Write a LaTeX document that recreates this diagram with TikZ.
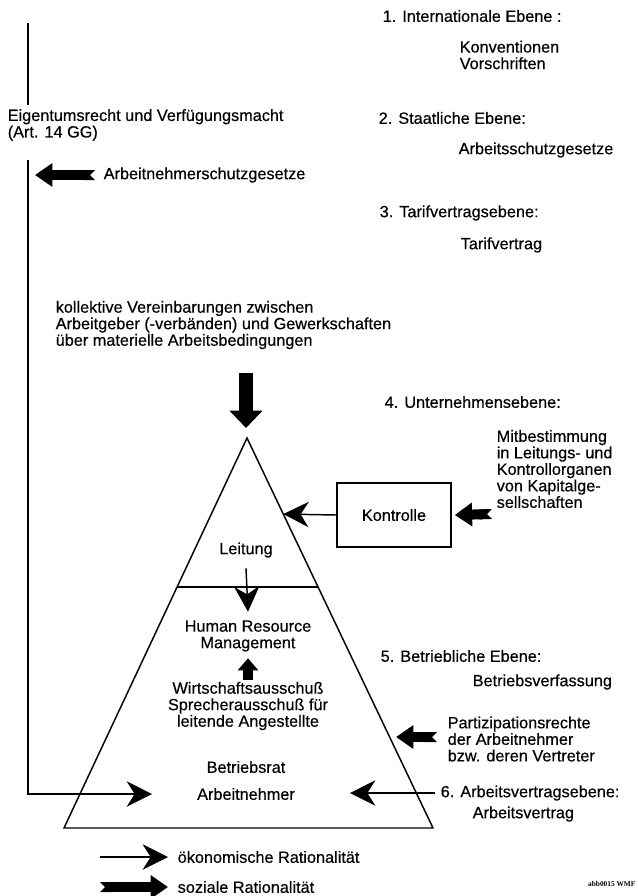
\documentclass[tikz,border=0pt]{standalone}
\usepackage{fontspec}
\setmainfont{Liberation Sans}[FakeBold=0.4]
\newfontfamily\tagfont{Liberation Serif}
\usetikzlibrary{arrows.meta,calc}

\tikzset{
  txt/.style={anchor=west, inner sep=0pt, align=left, font=\fontsize{12.2}{12.4}\selectfont},
  ctxt/.style={inner sep=0pt, align=center, font=\fontsize{12.2}{12.4}\selectfont},
  oek/.style={line width=1.1pt, -{Stealth[length=19pt,width=19pt,inset=6pt]}},
  soz/.style={line width=7.5pt, {Triangle Cap[reversed]}-{Triangle[length=13pt,width=17pt]}},
  sozbig/.style={soz, line width=10.5pt, -{Triangle[length=13pt,width=24pt]}},
}

\begin{document}
\begin{tikzpicture}[x=0.75pt, y=-0.75pt, line width=1.1pt]
\useasboundingbox (0,0) rectangle (638,896);

%% Ebenen (rechte Spalte)
\node[txt] (e1) at (382,16) {1. Internationale Ebene :};
\node[txt] (konv) at (459,55) {Konventionen\\Vorschriften};
\node[txt] (e2) at (378,118) {2. Staatliche Ebene:};
\node[txt] (asg) at (458,150) {Arbeitsschutzgesetze};
\node[txt] (e3) at (379,213) {3. Tarifvertragsebene:};
\node[txt] (tv) at (460,245) {Tarifvertrag};
\node[txt] (e4) at (384,402) {4. Unternehmensebene:};
\node[txt] (mitb) at (496,469) {Mitbestimmung\\in Leitungs- und\\Kontrollorganen\\von Kapitalge-\\sellschaften};
\node[txt] (e5) at (380,656) {5. Betriebliche Ebene:};
\node[txt] (bv) at (472,682) {Betriebsverfassung};
\node[txt] (part) at (447,739) {Partizipationsrechte\\der Arbeitnehmer\\bzw. deren Vertreter};
\node[txt] (e6) at (440,793) {6. Arbeitsvertragsebene:};
\node[txt] (av) at (472,814) {Arbeitsvertrag};

%% linke Seite
\node[txt] (eig) at (7,125) {Eigentumsrecht und Verfügungsmacht\\(Art. 14 GG)};
\node[txt] (ans) at (103,175) {Arbeitnehmerschutzgesetze};
\node[txt] (koll) at (55,325) {kollektive Vereinbarungen zwischen\\Arbeitgeber (-verbänden) und Gewerkschaften\\über materielle Arbeitsbedingungen};

%% Pyramide
\coordinate (apex) at (247,438);
\coordinate (pbl) at (64,828);
\coordinate (pbr) at (433,828);
\draw (apex) -- (pbl) -- (pbr) -- cycle;
\draw ($(apex)!0.382!(pbl)$) -- ($(apex)!0.382!(pbr)$);
\coordinate (kedge) at ($(apex)!0.195!(pbr)$);

\node[ctxt] (leit) at (246,550) {Leitung};
\node[ctxt] (hrm) at (248,636) {Human Resource\\Management};
\node[ctxt] (wa) at (248,706) {Wirtschaftsausschuß\\Sprecherausschuß für\\leitende Angestellte};
\node[ctxt] (brat) at (246,767) {Betriebsrat};
\node[ctxt] (an) at (246,794) {Arbeitnehmer};

\node[draw, minimum width=85.5pt, minimum height=48pt, font=\fontsize{12.2}{12.4}\selectfont] (kontr) at (394,515) {Kontrolle};

%% Pfeile
\coordinate (ltop) at (28,23);
\coordinate (lmid) at (28,105);
\coordinate (lbot) at (28,160);
\coordinate (antipL) at (152,794);
\coordinate (anstip) at (35,175);
\coordinate (dtop) at (246,373);
\coordinate (dtip) at (246,428);
\coordinate (mbtail) at (492,514);
\coordinate (ptip) at (396,737);
\coordinate (antipR) at (350,793);

\draw (ltop) -- (lmid);
\draw[oek] (lbot) |- (antipL);
\draw[soz] ($(ans.west)+(-8,0)$) -- (anstip);
\draw[sozbig] (dtop) -- (dtip);
\draw[oek] (kontr.west) -- (kedge);
\draw[soz] (mbtail) -- ($(kontr.east)+(3,0)$);
\draw[oek] ($(leit.south)+(0,10)$) -- ($(hrm.north)+(0,-8)$);
\draw[soz, -{Triangle[length=9pt,width=15pt]}] ($(wa.north)+(0,-1)$) -- ($(hrm.south)+(0,6)$);
\draw[soz] ($(part.west)+(-10,-2)$) -- (ptip);
\draw[oek] ($(e6.west)+(-5,0)$) -- (antipR);

%% Legende
\node[txt] (oektxt) at (177,857) {ökonomische Rationalität};
\node[txt] (soztxt) at (177,887) {soziale Rationalität};
\coordinate (lo) at (100,857);
\coordinate (ls) at (100,887);
\draw[oek] (lo) -- ($(oektxt.west)+(-9,0)$);
\draw[soz] (ls) -- ($(soztxt.west)+(-9,0)$);

\node[anchor=east, inner sep=0pt, font=\tagfont\bfseries\fontsize{5.5}{6}\selectfont] (tag) at (636,884) {abb0015 WMF};
\end{tikzpicture}
\end{document}
